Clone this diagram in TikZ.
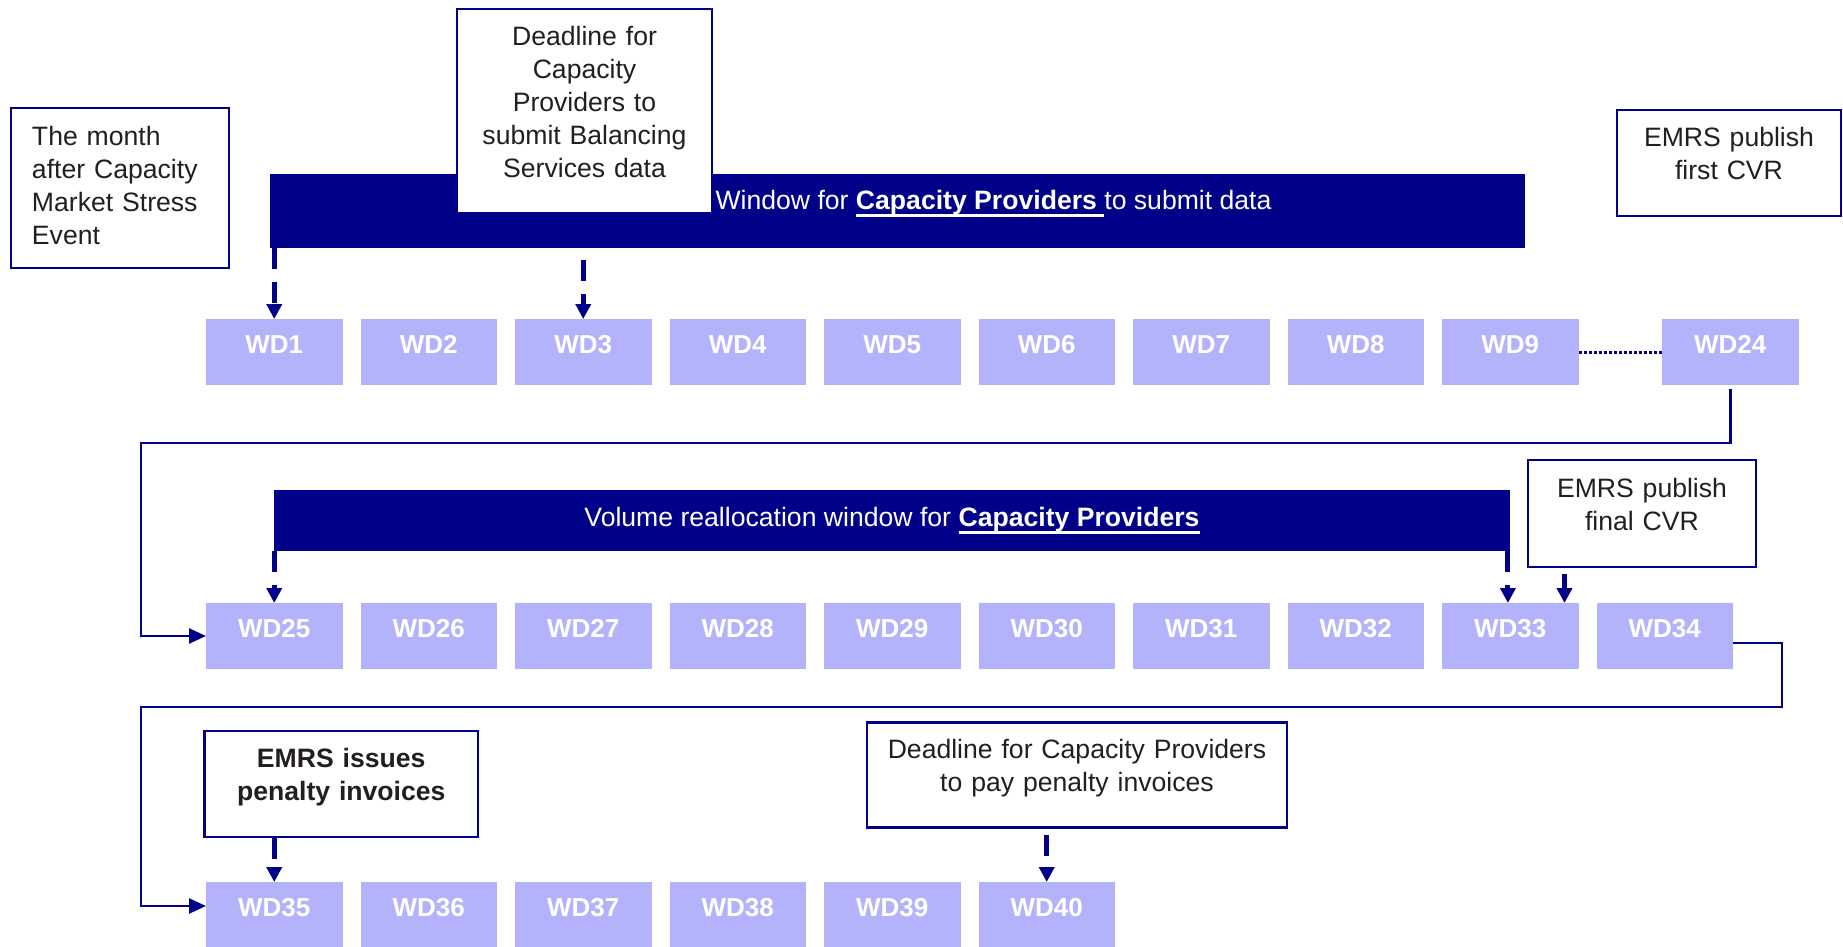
\documentclass[tikz,border=0pt]{standalone}
\usepackage{fontspec}
\setmainfont{Liberation Sans}
\usepackage{tikz}
\usetikzlibrary{shapes,arrows.meta,positioning}

\definecolor{emrsnavy}{RGB}{0,0,136}
\definecolor{wdfill}{RGB}{179,179,251}
\definecolor{inktext}{RGB}{35,31,32}
\newcommand{\lastpad}{\rule[-9.5pt]{0pt}{0pt}}
\newcommand{\ulbar}[1]{\setbox0\hbox{#1}\rlap{\rule[-3.4pt]{\wd0}{1.2pt}}\box0}

\begin{document}
\begin{tikzpicture}[x=0.5pt,y=-0.5pt]

  \tikzset{wd node/.style={rectangle, fill=wdfill, text=white,
  		font=\fontsize{13}{15.6}\selectfont\bfseries, inner sep=0pt,
  		outer sep=0pt, minimum width=68.25pt, minimum height=33pt,
  		text height=9.3pt, text depth=8.3pt}, }
  \tikzset{bar node/.style={rectangle, fill=emrsnavy, text=white,
  		inner sep=0pt, font=\fontsize{13.3}{16.5}\selectfont}, }
  \tikzset{note node/.style={rectangle, draw=emrsnavy, line width=1.3pt,
  		fill=white, text=inktext, inner xsep=4pt, inner ysep=0pt,
  		align=center, font=\fontsize{13.3}{16.5}\selectfont}, }
  \tikzset{linea/.style={emrsnavy, line width=1.3pt,
  		-{Triangle[length=8.5pt,width=7.5pt]}}, }
  \tikzset{dasha/.style={emrsnavy, line width=2.5pt,
  		dash pattern=on 10.5pt off 6.5pt,
  		-{Triangle[length=7.5pt,width=7.5pt]}}, }
  \tikzset{solida/.style={emrsnavy, line width=2.5pt,
  		-{Triangle[length=7.5pt,width=7.5pt]}}, }
\useasboundingbox (0,0) rectangle (1843,947);

%% first row: submission window
\node[bar node, minimum width=627.5pt, minimum height=37pt] (win1) at (897.5,211) {};
\node[note node, minimum width=109pt, minimum height=80pt, text width=88pt,
  inner xsep=10.5pt, align=left] (month) at (120,188)
  {The month\\after Capacity\\Market Stress\\Event\rule[-2.5pt]{0pt}{0pt}};
\node[note node, minimum width=127.5pt, minimum height=102pt, text width=119.5pt]
  (deadline) at (584.5,111)
  {Deadline for\\Capacity\\Providers to\\submit Balancing\\Services data\lastpad};
\node[bar node] (win1txt) at (993.5,203.5)
  {Window for \ulbar{\textbf{Capacity Providers }}to submit data};
\node[note node, minimum width=112pt, minimum height=53pt, text width=104pt]
  (first) at (1729,163) {EMRS publish\\first CVR\lastpad};

\node[wd node] (wd1) at (274.25,352) {WD1};
\foreach \y [count=\x from 1] in {2,...,9}
  \node[wd node, right=9pt of wd\x] (wd\y) {WD\y};
\node[wd node, right=41.75pt of wd9] (wd24) {WD24};

%% second row: volume reallocation
\node[bar node, minimum width=618pt, minimum height=30.5pt] (win2) at (892,520.5)
  {Volume reallocation window for \ulbar{\textbf{Capacity Providers}}};
\node[note node, minimum width=114pt, minimum height=53.5pt, text width=106pt]
  (final) at (1642,513.5) {EMRS publish\\final CVR\lastpad};

\node[wd node] (wd25) at (274.25,636) {WD25};
\foreach \y [count=\x from 25] in {26,...,34}
  \node[wd node, right=9pt of wd\x] (wd\y) {WD\y};

%% third row: invoices
\node[note node, minimum width=136.75pt, minimum height=53pt, text width=128pt,
  font=\fontsize{13.3}{16.5}\selectfont\bfseries] (issues) at (341.25,784)
  {EMRS issues\\penalty invoices\lastpad};
\node[note node, minimum width=210pt, minimum height=52.75pt, text width=202pt]
  (pay) at (1077,775)
  {Deadline for Capacity Providers\\to pay penalty invoices\lastpad};

\node[wd node] (wd35) at (274.25,915) {WD35};
\foreach \y [count=\x from 35] in {36,...,40}
  \node[wd node, right=9pt of wd\x] (wd\y) {WD\y};

%% connectors
\coordinate (bend1) at (141,443);
\coordinate (bend2) at (1782,707);
\draw[emrsnavy, line width=1.5pt, dash pattern=on 1.5pt off 1pt] (wd9.east) -- (wd24.west);
\draw[linea] ([yshift=-2pt]wd24.south) |- (bend1) |- (wd25.west);
\draw[linea] ([yshift=-3.5pt]wd34.east) -| (bend2) -- (bend2 -| bend1)
  |- ([yshift=4.5pt]wd35.west);

\draw[dasha] (win1.south -| wd1.north) -- (wd1.north);
\draw[dasha, shorten <=6pt] (win1.south -| wd3.north) -- (wd3.north);
\draw[dasha] (win2.south -| wd25.north) -- (wd25.north);
\draw[dasha] ([xshift=-1.25pt]win2.south east)
  -- ([xshift=-1.25pt]win2.south east |- wd33.north);
\draw[solida, shorten <=3pt] ([xshift=-7pt]wd33.north east |- final.south)
  -- ([xshift=-7pt]wd33.north east);
\draw[dasha] (issues.south -| wd35.north) -- (wd35.north);
\draw[dasha, shorten <=3pt] (pay.south -| wd40.north) -- (wd40.north);
%%
\end{tikzpicture}
\end{document}
